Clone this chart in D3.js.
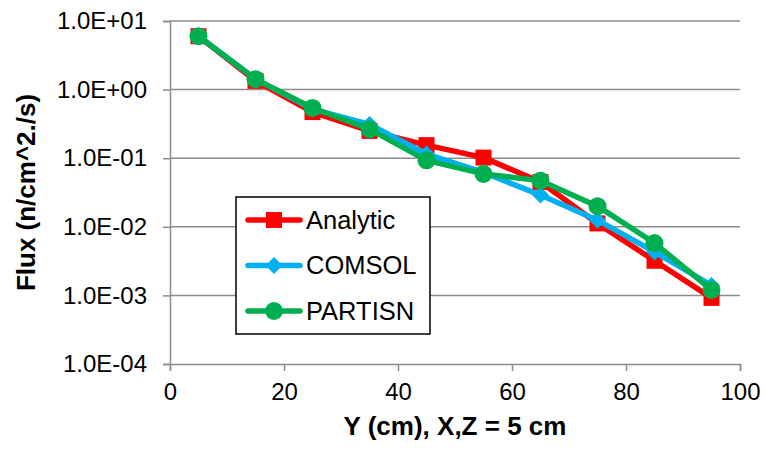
<!DOCTYPE html>
<html>
<head>
<meta charset="utf-8">
<script src="https://cdn.jsdelivr.net/npm/d3@7"></script>
<style>
  html, body { margin: 0; padding: 0; background: #fff; }
  svg { display: block; font-family: "Liberation Sans", Arial, sans-serif; }
</style>
</head>
<body>
<svg id="chart" width="765" height="449"></svg>
<script>
const xValues = [5, 15, 25, 35, 45, 55, 65, 75, 85, 95];
const analytic = [6.0, 1.34, 0.47, 0.25, 0.155, 0.102, 0.045, 0.0112, 0.0032, 0.00092];
const comsol   = [6.0, 1.42, 0.52, 0.31, 0.115, 0.062, 0.029, 0.0125, 0.0043, 0.0014];
const partisn  = [6.0, 1.42, 0.54, 0.265, 0.093, 0.059, 0.047, 0.020, 0.0058, 0.0012];
const seriesNames = ["Analytic", "COMSOL", "PARTISN"];
const xTicks = [0, 20, 40, 60, 80, 100];
const yTicks = [1e1, 1e0, 1e-1, 1e-2, 1e-3, 1e-4];
const yTickLabels = ["1.0E+01", "1.0E+00", "1.0E-01", "1.0E-02", "1.0E-03", "1.0E-04"];
const xTitle = "Y (cm), X,Z = 5 cm";
const yTitle = "Flux (n/cm^2./s)";

const colors = ["#FF0000", "#00B0F0", "#00B050"];
const markers = ["square", "diamond", "circle"];
const seriesData = [analytic, comsol, partisn];

const svg = d3.select("#chart");
const margin = {left: 170, right: 25, top: 21, bottom: 85};
const W = 765, H = 449;
const x = d3.scaleLinear().domain([0, 100]).range([margin.left, W - margin.right]);
const y = d3.scaleLog().domain([1e-4, 1e1]).range([H - margin.bottom, margin.top]);

const gridColor = "#8c8c8c";
const fontSize = 24;

// gridlines
svg.append("g").selectAll("line").data(yTicks.filter(v => v > 1e-4)).join("line")
  .attr("x1", x(0)).attr("x2", x(100))
  .attr("y1", d => y(d)).attr("y2", d => y(d))
  .attr("stroke", gridColor).attr("stroke-width", 1.5);

// y axis
const yAxis = d3.axisLeft(y).tickValues(yTicks)
  .tickFormat((d, i) => yTickLabels[i]).tickSize(7).tickPadding(16);
const gy = svg.append("g").attr("transform", `translate(${x(0)},0)`).call(yAxis);
gy.select(".domain").attr("stroke", gridColor).attr("stroke-width", 1.5);
gy.selectAll(".tick line").attr("stroke", gridColor).attr("stroke-width", 1.5);
gy.selectAll(".tick text").attr("font-size", fontSize).attr("fill", "#000")
  .attr("font-family", "Liberation Sans, Arial, sans-serif");

// x axis
const xAxis = d3.axisBottom(x).tickValues(xTicks).tickSize(7).tickPadding(12);
const gx = svg.append("g").attr("transform", `translate(0,${y(1e-4)})`).call(xAxis);
gx.select(".domain").attr("stroke", gridColor).attr("stroke-width", 1.5);
gx.selectAll(".tick line").attr("stroke", gridColor).attr("stroke-width", 1.5);
gx.selectAll(".tick text").attr("font-size", fontSize).attr("fill", "#000")
  .attr("font-family", "Liberation Sans, Arial, sans-serif");

// titles
svg.append("text").attr("x", (x(0) + x(100)) / 2).attr("y", 435)
  .attr("text-anchor", "middle").attr("font-size", 26).attr("font-weight", "bold")
  .text(xTitle);
svg.append("text").attr("transform", `translate(35,${(y(1e-4) + y(1e1)) / 2}) rotate(-90)`)
  .attr("text-anchor", "middle").attr("font-size", 26).attr("font-weight", "bold")
  .text(yTitle);

function drawMarker(g, type, color) {
  if (type === "square") {
    g.append("rect").attr("x", -8).attr("y", -8).attr("width", 16).attr("height", 16).attr("fill", color);
  } else if (type === "diamond") {
    g.append("path").attr("d", "M0,-8.5L8.5,0L0,8.5L-8.5,0Z").attr("fill", color);
  } else {
    g.append("circle").attr("r", 9).attr("fill", color);
  }
}

const line = d3.line().x(d => x(d[0])).y(d => y(d[1]));
seriesData.forEach((vals, si) => {
  const pts = xValues.map((xv, i) => [xv, vals[i]]);
  const g = svg.append("g");
  g.append("path").datum(pts).attr("d", line)
    .attr("fill", "none").attr("stroke", colors[si]).attr("stroke-width", 5.5)
    .attr("stroke-linejoin", "round").attr("stroke-linecap", "round");
  pts.forEach(p => {
    const mg = g.append("g").attr("transform", `translate(${x(p[0])},${y(p[1])})`);
    drawMarker(mg, markers[si], colors[si]);
  });
});

// legend
const lg = svg.append("g");
lg.append("rect").attr("x", 236).attr("y", 197).attr("width", 194).attr("height", 137)
  .attr("fill", "#fff").attr("stroke", "#000").attr("stroke-width", 1.5);
const legY = [220, 265.5, 311];
seriesNames.forEach((name, si) => {
  const ly = legY[si];
  lg.append("line").attr("x1", 248).attr("x2", 300).attr("y1", ly).attr("y2", ly)
    .attr("stroke", colors[si]).attr("stroke-width", 5.5).attr("stroke-linecap", "round");
  const mg = lg.append("g").attr("transform", `translate(274,${ly})`);
  drawMarker(mg, markers[si], colors[si]);
  lg.append("text").attr("x", 306).attr("y", ly).attr("dy", "0.35em")
    .attr("font-size", 25.5).attr("fill", "#000").text(name);
});
</script>
</body>
</html>
